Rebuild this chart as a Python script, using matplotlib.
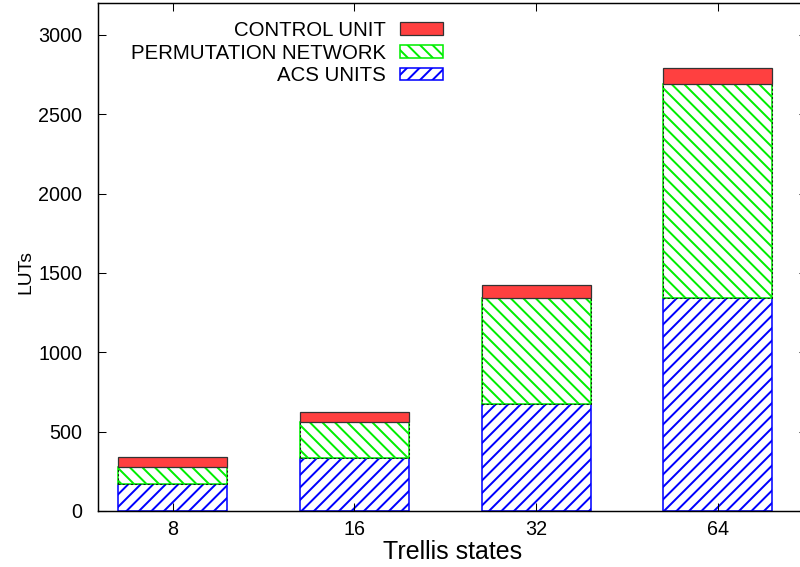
import matplotlib
matplotlib.use("Agg")
import matplotlib.pyplot as plt
import numpy as np

# LUT usage per block, stacked per trellis size
states = ["8", "16", "32", "64"]
acs_units = [168, 336, 672, 1344]
perm_network = [112, 224, 672, 1344]
control_unit = [58, 62, 80, 103]

plt.rcParams['font.family'] = ['Liberation Sans', 'DejaVu Sans']
plt.rcParams['hatch.linewidth'] = 1.9

fig = plt.figure(figsize=(800 / 75, 567 / 75), dpi=75)
ax = fig.add_axes([98 / 800, 56 / 567, 709 / 800, 508 / 567])

x = np.arange(len(states))
w = 0.6
acs = np.array(acs_units)
perm = np.array(perm_network)
ctrl = np.array(control_unit)

b1 = ax.bar(x, acs, w, color='white', edgecolor='#0000ff', hatch='//',
            linewidth=1.5, label='ACS UNITS')
b2 = ax.bar(x, perm, w, bottom=acs, color='white', edgecolor='#00ee00',
            hatch='\\\\', linewidth=1.5, label='PERMUTATION NETWORK')
# dashed dark outline over the green segments
ax.bar(x, perm, w, bottom=acs, fill=False, edgecolor='#1a1a1a',
       linewidth=1.0, linestyle=(0, (2, 2)))
b3 = ax.bar(x, ctrl, w, bottom=acs + perm, color='#ff4040',
            edgecolor='#333333', linewidth=1.2, label='CONTROL UNIT')

ax.set_xlim(-0.41, 3.49)
ax.set_ylim(0, 3200)
ax.set_xticks(x)
ax.set_xticklabels(states)
ax.set_yticks(range(0, 3001, 500))
ax.tick_params(direction='in', length=8, width=1, labelsize=19,
               top=True, right=True)
ax.tick_params(axis='y', pad=15)
ax.tick_params(axis='x', pad=9)
for s in ax.spines.values():
    s.set_linewidth(1.4)

ax.set_xlabel('Trellis states', fontsize=24, labelpad=1)
ax.set_ylabel('LUTs', fontsize=18.5)
ax.yaxis.set_label_coords(-0.09, 0.47)

ax.legend([b3, b2, b1], ['CONTROL UNIT', 'PERMUTATION NETWORK', 'ACS UNITS'],
          loc='upper right', bbox_to_anchor=(0.509, 0.997), frameon=False,
          markerfirst=False, fontsize=19.5, handlelength=2.1,
          handleheight=0.55, labelspacing=0.19, handletextpad=0.7,
          borderpad=0.3)

fig.savefig('out.png', dpi=75)
